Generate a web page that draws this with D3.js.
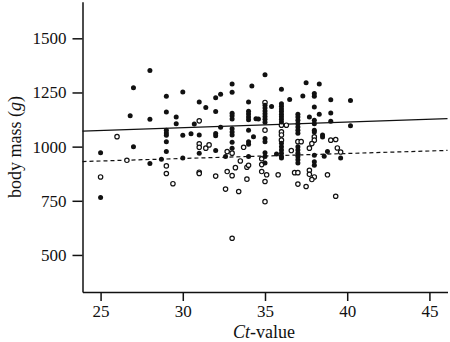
<!DOCTYPE html>
<html>
  <head>
    <title>Ct-value vs body mass</title>
    <script src="https://d3js.org/d3.v7.min.js"></script>
    <style>
      body { margin: 0; background: white; }
      text { font-family: "Liberation Serif", "Times New Roman", serif; fill: #111; }
    </style>
  </head>
  <body>
    <script>
        let width = 450, height = 342;

        // filled circles
        let filledCt = [25.0, 25.0, 26.8, 27.0, 27.0, 28.0, 28.0, 28.0, 28.7, 29.0, 29.0, 29.0, 29.0, 29.0, 29.0, 29.0, 29.6, 29.6,
            30.0, 30.0, 30.0, 30.5, 30.7, 31.0, 31.0, 31.0, 31.4, 32.0, 32.0, 32.0, 32.0, 32.0, 32.3, 32.3, 32.6,
            33.0, 33.0, 33.0, 33.0, 33.0, 33.0, 33.0, 33.0, 33.0, 33.0, 34.0, 34.0, 34.0, 34.0, 34.0, 34.0, 34.0, 34.0, 34.0,
            34.2, 34.3, 34.45, 34.6, 35.0, 35.0, 35.0, 35.0, 35.0, 35.0, 35.0, 35.0, 35.0, 35.0, 35.0, 35.0, 35.0, 35.4, 35.7,
            36.0, 36.0, 36.0, 36.0, 36.0, 36.0, 36.0, 36.0, 36.0, 36.0, 36.0, 36.0, 36.0, 36.0, 36.0, 36.5,
            37.0, 37.0, 37.0, 37.0, 37.0, 37.0, 37.0, 37.0, 37.0, 37.0, 37.0, 37.0, 37.0, 37.3, 37.5, 37.7,
            38.0, 38.0, 38.0, 38.0, 38.0, 38.0, 38.0, 38.0, 38.0, 38.0, 38.3, 38.3, 38.5, 38.5, 38.6, 38.8,
            39.0, 39.0, 39.0, 39.6, 40.2, 40.2];
        let filledMass = [972, 765, 1142, 1272, 999, 1352, 1126, 922, 942, 1232, 1160, 1076, 1063, 1053, 1022, 978, 1137, 1106,
            1252, 1053, 947, 1060, 1104, 1206, 1054, 970, 1181, 1226, 1162, 1061, 1050, 982, 1242, 1090, 955,
            1289, 1251, 1154, 1142, 1128, 1083, 1068, 1054, 1020, 993, 1206, 1163, 1151, 1137, 1124, 1076, 1023, 1011, 955,
            1280, 1046, 1129, 1128, 1332, 1191, 1178, 1165, 1152, 1139, 1126, 1112, 1037, 1022, 972, 955, 924, 1185, 966,
            1265, 1198, 1186, 1174, 1162, 1150, 1138, 1126, 1114, 1016, 1000, 985, 970, 955, 947, 1218,
            1150, 1137, 1122, 1106, 1091, 1076, 1062, 1000, 985, 970, 955, 940, 925, 1234, 1295, 1137,
            1245, 1233, 1183, 1122, 1106, 1076, 1068, 960, 930, 914, 1289, 1150, 1054, 1045, 956, 977,
            1216, 1155, 1117, 947, 1213, 1096];

        // open circles
        let openCt = [25.0, 26.0, 26.6, 29.0, 29.0, 29.4, 31.0, 31.0, 31.0, 31.0, 31.0, 31.4, 31.6, 32.0, 32.6, 32.7, 32.7,
            33.0, 33.0, 33.0, 33.2, 33.4, 33.5, 33.7, 33.9, 33.9, 34.0, 34.8, 34.8, 34.8, 35.0, 35.0, 35.0, 35.0, 35.1, 35.8,
            36.0, 36.0, 36.0, 36.0, 36.3, 36.6, 37.0, 37.2, 36.8, 37.0, 37.0, 37.5, 37.7, 37.7, 37.7,
            38.0, 38.0, 37.85, 38.0, 37.85, 38.8, 39.0, 39.3, 39.4, 39.6, 39.3];
        let openMass = [860, 1046, 937, 911, 876, 829, 1119, 1013, 997, 882, 876, 993, 1008, 864, 804, 977, 885,
            970, 866, 577, 903, 793, 934, 997, 905, 850, 914, 944, 917, 885, 1204, 1076, 839, 746, 870, 870,
            1099, 1068, 1054, 1030, 1099, 982, 1023, 1023, 880, 880, 827, 816, 993, 891, 872,
            1045, 1030, 1014, 860, 848, 870, 1030, 1033, 994, 975, 771];

        // regression fits (intercept, slope)
        let fitFilled = [1010, 2.58];
        let fitOpen = [876, 2.31];

        let xTicks = [25, 30, 35, 40, 45];
        let yTicks = [500, 750, 1000, 1250, 1500];

        let svg = d3.select("body").append("svg")
                    .attr("width", width).attr("height", height);

        let x = d3.scaleLinear().domain([23.9, 46.1]).range([82.5, 447.5]);
        let y = d3.scaleLinear().domain([329, 1669]).range([292, 1.7]);

        svg.append("g").attr("transform", "translate(0,292)")
            .call(d3.axisBottom(x).tickValues(xTicks).tickFormat(d3.format("d"))
                .tickSize(9).tickSizeOuter(0).tickPadding(4));
        svg.append("g").attr("transform", "translate(82.5,0)")
            .call(d3.axisLeft(y).tickValues(yTicks).tickFormat(d3.format("d"))
                .tickSize(10).tickSizeOuter(0).tickPadding(6));

        svg.selectAll("g").attr("font-family", "Liberation Serif").attr("font-size", 17);
        svg.selectAll(".domain").attr("stroke", "#111").attr("stroke-width", 1.5);
        svg.selectAll(".tick line").attr("stroke", "#111").attr("stroke-width", 1.5);
        svg.selectAll(".tick text").attr("fill", "#111").style("font-family", "Liberation Serif");

        // fitted lines
        let line = d3.line().x(d => x(d[0])).y(d => y(d[1]));
        let xs = x.domain();
        svg.append("path")
            .attr("d", line(xs.map(v => [v, fitFilled[0] + fitFilled[1] * v])))
            .attr("stroke", "#111").attr("stroke-width", 1.2).attr("fill", "none");
        svg.append("path")
            .attr("d", line(xs.map(v => [v, fitOpen[0] + fitOpen[1] * v])))
            .attr("stroke", "#111").attr("stroke-width", 1.2).attr("fill", "none")
            .attr("stroke-dasharray", "4,3");

        // points
        svg.append("g").selectAll("circle").data(openCt).enter().append("circle")
            .attr("cx", (d, i) => x(d)).attr("cy", (d, i) => y(openMass[i]))
            .attr("r", 2.2).attr("fill", "white").attr("stroke", "#111").attr("stroke-width", 1.2);
        svg.append("g").selectAll("circle").data(filledCt).enter().append("circle")
            .attr("cx", (d, i) => x(d)).attr("cy", (d, i) => y(filledMass[i]))
            .attr("r", 2.5).attr("fill", "#111");

        // axis titles
        let xt = svg.append("text").attr("x", 264).attr("y", 338)
            .attr("text-anchor", "middle").style("font-size", "18px");
        xt.append("tspan").style("font-style", "italic").text("Ct");
        xt.append("tspan").text("-value");

        let yt = svg.append("text").attr("transform", "translate(21,147) rotate(-90)")
            .attr("text-anchor", "middle").style("font-size", "18px");
        yt.append("tspan").text("body mass (");
        yt.append("tspan").style("font-style", "italic").text("g");
        yt.append("tspan").text(")");
    </script>
  </body>
</html>
